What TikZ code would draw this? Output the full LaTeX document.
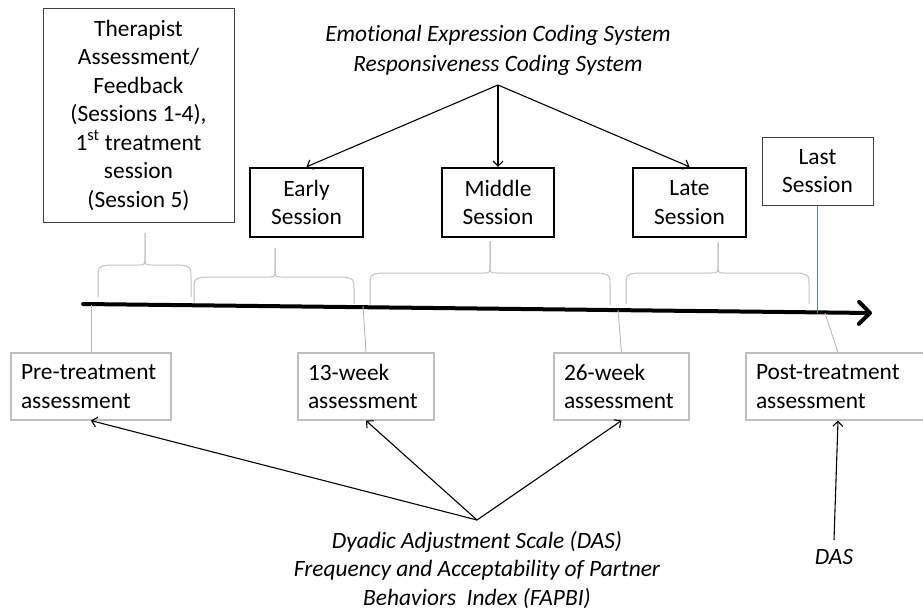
\documentclass[tikz,border=0pt]{standalone}
\usepackage{fontspec}
\setmainfont{Carlito}[Ligatures=NoCommon]
\usetikzlibrary{arrows.meta}

% curly brace over a stretch of the timeline: x-left, x-right, x-tip, y-feet, y-bar, y-tip
\newcommand\sessionbrace[6]{%
  \draw[bracestyle] (#1,#4) -- (#1,#5+12) .. controls (#1,#5+2) .. (#1+10,#5)
    -- (#3-7,#5) .. controls (#3,#5) .. (#3,#5-9) -- (#3,#6);
  \draw[bracestyle] (#2,#4) -- (#2,#5+12) .. controls (#2,#5+2) .. (#2-10,#5)
    -- (#3+7,#5) .. controls (#3,#5) .. (#3,#5-9) -- (#3,#6);
}

\begin{document}
\begin{tikzpicture}[x=1pt,y=-1pt,
  every node/.style={font=\fontsize{23.4}{28.5}\selectfont},
  thinbox/.style={draw=black!75, line width=1pt, inner sep=0pt, align=center},
  sessbox/.style={draw=black, line width=2.4pt, minimum width=113pt,
    minimum height=69pt, inner sep=0pt, align=center},
  assess/.style={draw=black!25, line width=1.2pt, minimum height=67pt,
    inner xsep=10pt, inner ysep=0pt, align=left},
  labeltext/.style={font=\fontsize{23.4}{28.5}\selectfont\itshape, align=center, inner sep=0pt},
  bracestyle/.style={draw=black!24, line width=1pt},
  link/.style={draw=black!28, line width=0.9pt},
  pointer/.style={draw=black, line width=1.1pt, -{Straight Barb[length=5pt,width=10pt]}},
  timeline/.style={draw=black, line width=4pt, line cap=round,
    -{Straight Barb[length=11pt,width=22pt,line cap=round,line join=round]}}]

\useasboundingbox (0,0) rectangle (923,613);
\clip (0,0) rectangle (923,613);

% boxes above the timeline
\node[thinbox, minimum width=191pt, minimum height=214pt] (ther) at (138.5,115)
  {Therapist\\Assessment/\\Feedback\\(Sessions 1-4),\\1\textsuperscript{st} treatment\\session\\(Session 5)};
\node[sessbox] (early) at (306.5,202.5) {Early\\Session};
\node[sessbox, minimum width=112pt] (middle) at (498,202.5) {Middle\\Session};
\node[sessbox] (late) at (689.5,202.5) {Late\\Session};
\node[thinbox, minimum width=111pt, minimum height=68pt] (last) at (817.5,171) {Last\\Session};

% coding systems feeding the three coded sessions
\node[labeltext, font=\fontsize{23.4}{30}\selectfont\itshape] (codes) at (498,50)
  {Emotional Expression Coding System\\Responsiveness Coding System};
\coordinate (codefork) at (498,85);
\draw[pointer] (codefork) -- (early.north);
\draw[pointer] (codefork) -- (middle.north);
\draw[pointer] (codefork) -- (late.north);

% braces marking the stretches of therapy
\sessionbrace{98}{191}{145}{297}{265}{233}
\sessionbrace{194}{354}{275}{304}{277}{248}
\sessionbrace{370}{610}{490}{305}{273}{241}
\sessionbrace{626}{809}{718}{304}{273}{242}

% timeline
\coordinate (tstart) at (83,304);
\coordinate (tend) at (872,313);
\draw[timeline] (tstart) -- (tend);

% assessment boxes below the timeline
\node[assess, text width=140pt] (pre) at (91,386.5) {Pre-treatment\\assessment};
\node[assess, text width=116pt] (wk13) at (366,386.5) {13-week\\assessment};
\node[assess, text width=115pt] (wk26) at (621.5,386.5) {26-week\\assessment};
\node[assess, text width=164pt] (post) at (838,386.5) {Post-treatment\\assessment};

% ticks from the timeline to the assessments
\coordinate (t0) at (91,305);
\coordinate (t13) at (363,306);
\coordinate (t26) at (618,310);
\coordinate (tpost) at (825,313);
\draw[link] (t0) -- (pre.north);
\draw[link] (t13) -- (wk13.north);
\draw[link] (t26) -- (wk26.north);
\draw[link] (tpost) -- (post.north);

% last session marker
\coordinate (tlast) at (817.5,313);
\draw[draw={rgb,255:red,79;green,129;blue,189}, line width=1pt] (last.south) -- (tlast);

% questionnaires
\node[labeltext] (scales) at (477,570)
  {Dyadic Adjustment Scale (DAS)\\Frequency and Acceptability of Partner\\Behaviors\ \ Index (FAPBI)};
\coordinate (scalefork) at (477,520);
\draw[pointer] (scalefork) -- (pre.south);
\draw[pointer] (scalefork) -- (wk13.south);
\draw[pointer] (scalefork) -- (wk26.south);

\node[labeltext] (das) at (834,557) {DAS};
\draw[pointer] ([yshift=9pt]das.north) -- (post.south);
\end{tikzpicture}
\end{document}
